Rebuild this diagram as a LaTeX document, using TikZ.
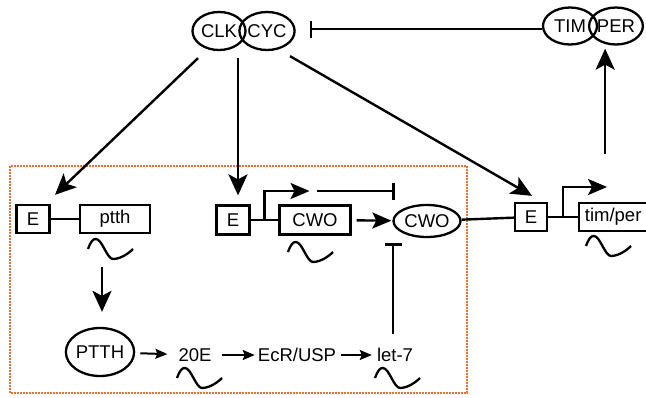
\documentclass[tikz,border=0pt]{standalone}
\usepackage{fontspec}
\setmainfont{Liberation Sans}
\usetikzlibrary{shapes.geometric,arrows.meta,calc}
\definecolor{frameorange}{HTML}{EB7035}
\begin{document}
\begin{tikzpicture}[x=1pt,y=-1pt,line width=2.4pt,
  lab/.style={font=\fontsize{18.5}{21}\selectfont,inner sep=0pt},
  ell/.style={ellipse,draw,line width=2.3pt,lab},
  gbox/.style={rectangle,draw,line width=2.3pt,lab},
  big/.style={-{Stealth[length=21pt,width=19pt,inset=5pt]}},
  prom/.style={-{Stealth[length=19pt,width=16pt,inset=4pt]}},
  small/.style={line width=2pt,-{Stealth[length=12pt,width=10pt,inset=2pt]}},
  inh/.style={-{Bar[width=17pt,line width=2.4pt]}},
  wave/.pic={\draw[line width=2.3pt] (0,0) .. controls (3,-8) and (5,-10) .. (8,-10)
      .. controls (14,-10) and (19,10) .. (25,10) .. controls (32,10) and (40,5) .. (45,0);}
]
\useasboundingbox (0,0) rectangle (646,397);
% orange dotted frame
\draw[frameorange,line width=2.8pt,dash pattern=on 1.6pt off 1.4pt] (10,166) rectangle (467,393);

% top ellipses
\node[ell,minimum width=53pt,minimum height=38pt] (clk) at (219,31) {CLK};
\node[ell,minimum width=53pt,minimum height=38pt] (cyc) at (267,31) {CYC};
\node[ell,minimum width=54pt,minimum height=37pt] (tim) at (570,26) {TIM};
\node[ell,minimum width=50pt,minimum height=37pt] (per) at (616,26) {PER};

% left gene
\node[gbox,minimum width=33pt,minimum height=28pt] (e1) at (33,219) {E};
\node[gbox,minimum width=70pt,minimum height=28pt] (ptth) at (115,219) {ptth};
\draw (e1) -- (ptth);
\pic at (88,249) {wave};

% middle gene
\node[gbox,minimum width=33pt,minimum height=29pt] (e2) at (233,220) {E};
\node[gbox,minimum width=71pt,minimum height=29pt] (cwo) at (315,220) {CWO};
\node[ell,minimum width=67pt,minimum height=32pt] (cwoE) at (427,221) {CWO};
\draw (e2) -- (cwo);
\pic at (288,252) {wave};
\coordinate (j2) at ($(e2.east)!0.5!(cwo.west)$);
\coordinate (p2) at ($(j2)+(45,-29)$);
\draw[prom] (j2) -- ($(j2)+(0,-29)$) -- (p2);
\coordinate (i2a) at ($(j2)+(52,-29)$);
\coordinate (i2b) at ($(j2)+(130,-29)$);
\draw[inh] (i2a) -- (i2b);
\draw[prom,shorten <=5pt,shorten >=1pt] (cwo) -- (cwoE);

% right gene
\node[gbox,minimum width=32pt,minimum height=28pt] (e3) at (531,217) {E};
\node[gbox,anchor=west,minimum width=68pt,minimum height=28pt] (tp) at (578,217) {tim/per};
\draw (cwoE) -- (e3);
\draw (e3) -- (tp);
\coordinate (j3) at ($(e3.east)!0.5!(tp.west)$);
\draw[prom] (j3) -- ($(j3)+(0,-30)$) -- ($(j3)+(44,-30)$);
\pic at (586,246) {wave};

% bottom pathway
\node[ell,minimum width=66pt,minimum height=48pt] (pttE) at (100,352) {PTTH};
\node[lab] (t20) at (195,355) {20E};
\node[lab] (ecr) at (297,355) {EcR/USP};
\node[lab] (let) at (395,355) {let-7};
\pic at (177,378) {wave};
\pic at (375,378) {wave};
\draw[small,shorten <=5pt,shorten >=10pt] (pttE) -- (t20);
\draw[small,shorten <=9pt,shorten >=2pt] (t20) -- (ecr);
\draw[small,shorten <=4pt,shorten >=4pt] (ecr) -- (let);
\draw[big] ($(pttE.north |- ptth.south)+(2,33)$) -- ($(pttE.north)+(2,-15)$);
\draw[inh] ($(let.north)+(-2,-13)$) -- ($(let.north |- cwoE.south)+(-2,5)$);

% arrows from CLK/CYC
\draw[big] ($(clk.south)+(-21,7)$) -- ($(e1.north)+(22,-9)$);
\draw[big] ($(clk.south)+(19,7)$) -- ($(e2.north)+(5,-9)$);
\draw[big] ($(cyc.south)+(23,5)$) -- ($(e3.north)+(1,-6)$);

% feedback
\draw[inh,shorten >=14pt] (tim.west |- 0,29) -- (cyc.east |- 0,29);
\coordinate (up) at ($(tp.north)+(-8,-48)$);
\draw[big,shorten >=3pt] (up) -- (up |- per.south);
\end{tikzpicture}
\end{document}
